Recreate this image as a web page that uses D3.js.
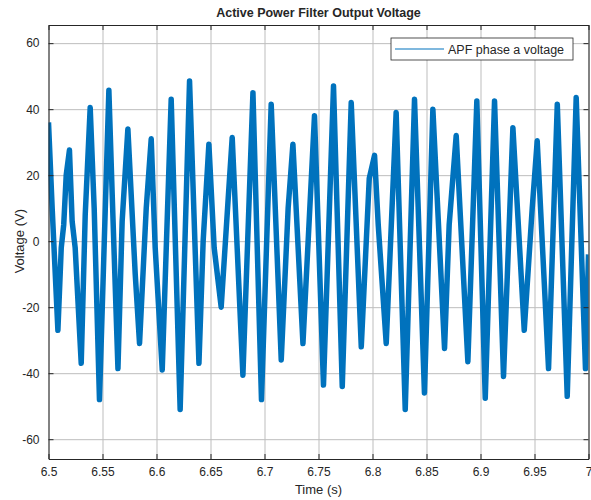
<!DOCTYPE html>
<html>
<head>
<meta charset="utf-8">
<script src="https://cdn.jsdelivr.net/npm/d3@7"></script>
<style>
  body { margin: 0; background: #fff; }
  text { font-family: "Liberation Sans", Arial, sans-serif; fill: #262626; }
</style>
</head>
<body>
<div class="container"></div>
<script>
const WIDTH = 591,
    HEIGHT = 500,
    LEFT = 48.5,
    RIGHT = 588.5,
    TOP = 25,
    BOTTOM = 459,
    LINE_COLOR = '#0072bd';

// envelope turning points of the phase a voltage
const times = [
    6.5000, 6.5034, 6.5087, 6.5118, 6.5141, 6.5164, 6.5194, 6.5219, 6.5247, 6.5303,
    6.5340, 6.5386, 6.5423, 6.5472, 6.5559, 6.5590, 6.5643, 6.5682, 6.5735, 6.5803,
    6.5843, 6.5905, 6.5951, 6.5988, 6.6053, 6.6136, 6.6219, 6.6306, 6.6393, 6.6432,
    6.6485, 6.6534, 6.6599, 6.6664, 6.6701, 6.6800, 6.6893, 6.6972, 6.7062, 6.7155,
    6.7219, 6.7263, 6.7356, 6.7463, 6.7546, 6.7639, 6.7720, 6.7803, 6.7896, 6.7970,
    6.8019, 6.8053, 6.8127, 6.8219, 6.8303, 6.8389, 6.8481, 6.8559, 6.8667, 6.8710,
    6.8775, 6.8883, 6.8966, 6.9044, 6.9130, 6.9213, 6.9300, 6.9405, 6.9479, 6.9525,
    6.9630, 6.9711, 6.9803, 6.9886, 6.9972, 7.0000
];
const volts = [
    36, 10, -27, -2, 5, 20, 27.6, 6, -2, -37,
    8, 40.5, 10, -48, 45.7, 14, -38.6, 6, 34, -10,
    -31, 10, 31, -2, -39, 43, -51, 48.5, -37, 0,
    29.4, -2, -20, 13, 31.4, -40.6, 45, -48, 41.5, -36,
    10, 29.4, -31, 38, -43.6, 47, -44, 42, -32, 19,
    26, 5, -31, 39, -51, 43, -46, 40, -32.5, 5,
    32, -36.5, 42.5, -47.6, 42.5, -41, 34.4, -27, 10, 30.4,
    -38.6, 41.5, -47, 43.5, -38.6, -4
];

const xTicks = [6.5, 6.55, 6.6, 6.65, 6.7, 6.75, 6.8, 6.85, 6.9, 6.95, 7];
const xTickLabels = ['6.5', '6.55', '6.6', '6.65', '6.7', '6.75', '6.8', '6.85', '6.9', '6.95', '7'];
const yTicks = [-60, -40, -20, 0, 20, 40, 60];
const yTickLabels = ['-60', '-40', '-20', '0', '20', '40', '60'];
const yLimits = [-66, 65.5];

const xScale = d3.scaleLinear().domain([6.5, 7]).range([LEFT, RIGHT]);
const yScale = d3.scaleLinear().domain(yLimits).range([BOTTOM, TOP]);

var svg = d3.select('.container').append('svg')
    .attr('width', WIDTH)
    .attr('height', HEIGHT);

// grid
svg.append('g')
    .attr('transform', `translate(0,${BOTTOM})`)
    .call(d3.axisBottom(xScale).tickValues(xTicks).tickSize(-(BOTTOM - TOP)).tickFormat(''))
    .call(g => g.select('.domain').remove())
    .call(g => g.selectAll('line').attr('stroke', '#bdbdbd'));

svg.append('g')
    .attr('transform', `translate(${LEFT},0)`)
    .call(d3.axisLeft(yScale).tickValues(yTicks).tickSize(-(RIGHT - LEFT)).tickFormat(''))
    .call(g => g.select('.domain').remove())
    .call(g => g.selectAll('line').attr('stroke', '#bdbdbd'));

// signal
svg.append('defs').append('clipPath').attr('id', 'plot')
    .append('rect')
    .attr('x', LEFT).attr('y', TOP)
    .attr('width', RIGHT - LEFT).attr('height', BOTTOM - TOP);

var line = d3.line()
    .x((d, i) => xScale(times[i]))
    .y(d => yScale(d));

// wide stroke stands in for the switching ripple band
svg.append('path')
    .attr('clip-path', 'url(#plot)')
    .attr('d', line(volts))
    .attr('fill', 'none')
    .attr('stroke', LINE_COLOR)
    .attr('stroke-width', 5.5)
    .attr('stroke-linejoin', 'round');

// axes with inward ticks
var styleAxis = g => {
    g.select('.domain').attr('stroke', '#262626');
    g.selectAll('.tick line').attr('stroke', '#262626');
    g.selectAll('text').attr('fill', '#262626').style('font-size', '12px');
};

svg.append('g')
    .attr('transform', `translate(0,${BOTTOM})`)
    .call(d3.axisBottom(xScale).tickValues(xTicks).tickSizeInner(-5).tickSizeOuter(0).tickPadding(8)
        .tickFormat((d, i) => xTickLabels[i]))
    .call(styleAxis);

svg.append('g')
    .attr('transform', `translate(0,${TOP})`)
    .call(d3.axisTop(xScale).tickValues(xTicks).tickSizeInner(-5).tickSizeOuter(0).tickFormat(''))
    .call(styleAxis);

svg.append('g')
    .attr('transform', `translate(${LEFT},0)`)
    .call(d3.axisLeft(yScale).tickValues(yTicks).tickSizeInner(-5).tickSizeOuter(0).tickPadding(9)
        .tickFormat((d, i) => yTickLabels[i]))
    .call(styleAxis);

svg.append('g')
    .attr('transform', `translate(${RIGHT},0)`)
    .call(d3.axisRight(yScale).tickValues(yTicks).tickSizeInner(-5).tickSizeOuter(0).tickFormat(''))
    .call(styleAxis);

svg.selectAll('.tick text').attr('font-family', null);

// labels
svg.append('text')
    .attr('x', (LEFT + RIGHT) / 2).attr('y', 17)
    .attr('text-anchor', 'middle')
    .style('font-size', '12.5px').style('font-weight', 'bold')
    .attr('fill', '#000')
    .text('Active Power Filter Output Voltage');

svg.append('text')
    .attr('x', (LEFT + RIGHT) / 2).attr('y', 494)
    .attr('text-anchor', 'middle')
    .style('font-size', '13px')
    .text('Time (s)');

svg.append('text')
    .attr('transform', `translate(24,${yScale(0)}) rotate(-90)`)
    .attr('text-anchor', 'middle')
    .style('font-size', '13px')
    .text('Voltage (V)');

// legend
var legend = svg.append('g').attr('transform', 'translate(391,38)');
legend.append('rect')
    .attr('width', 182).attr('height', 22)
    .attr('fill', '#fff').attr('stroke', '#262626').attr('stroke-width', 0.8);
legend.append('line')
    .attr('x1', 4).attr('x2', 53).attr('y1', 11).attr('y2', 11)
    .attr('stroke', LINE_COLOR).attr('stroke-width', 1.2);
legend.append('text')
    .attr('x', 57).attr('y', 15.5)
    .style('font-size', '12.5px')
    .text('APF phase a voltage');
</script>
</body>
</html>
